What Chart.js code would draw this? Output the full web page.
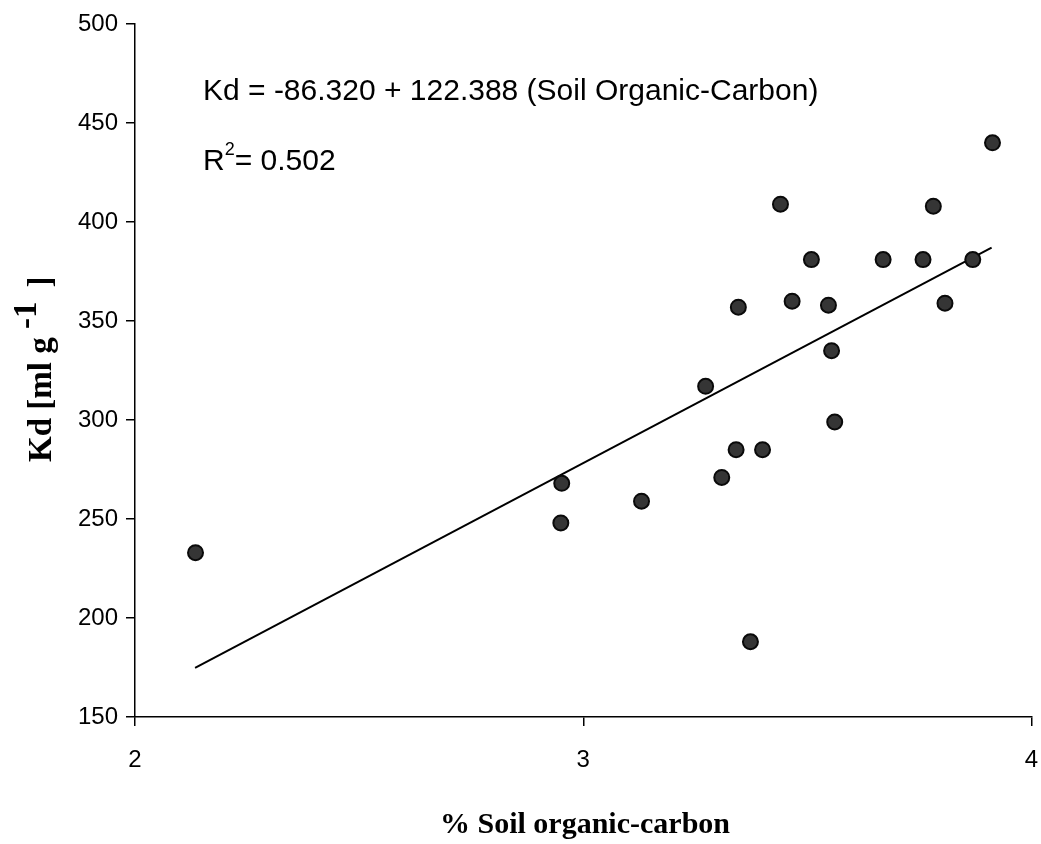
<!DOCTYPE html>
<html>
<head>
<meta charset="utf-8">
<title>Kd vs soil organic carbon</title>
<script src="https://cdn.jsdelivr.net/npm/chart.js@4.4.0/dist/chart.umd.min.js"></script>
<style>
    html, body { margin: 0; padding: 0; background: #fff; }
    #wrap { width: 1041px; height: 844px; }
</style>
</head>
<body>
<div id="wrap"><canvas id="kdChart" width="1041" height="844"></canvas></div>
<script>
// Measured samples: % soil organic carbon and Kd [ml g-1]
const soilCarbon = [2.135, 2.950, 2.952, 3.130, 3.273, 3.309, 3.341, 3.346, 3.373, 3.400, 3.440,
                    3.466, 3.509, 3.547, 3.554, 3.561, 3.669, 3.758, 3.781, 3.807, 3.869, 3.913];
const kdValues   = [233, 248, 268, 259, 317, 271, 285, 357, 188, 285, 409,
                    360, 381, 358, 335, 299, 381, 381, 408, 359, 381, 440];

// Fitted line, end points as drawn
const fitCarbon = [2.134, 3.911];
const fitKd     = [174.8, 387.0];

// Axes
const xTicks = [2, 3, 4];
const yTicks = [150, 200, 250, 300, 350, 400, 450, 500];

// Texts
const equationText = 'Kd = -86.320 + 122.388 (Soil Organic-Carbon)';
const rSquaredText = '0.502';
const xTitle = '% Soil organic-carbon';
const yTitleMain = 'Kd [ml g';
const yTitleSup = '-1';
const yTitleEnd = ']';

const SANS = '"Liberation Sans", Arial, sans-serif';
const SERIF = '"Liberation Serif", "Times New Roman", serif';

document.addEventListener('DOMContentLoaded', function() {
    initChart();
});

// Draws the equation, R² and both axis titles
const textPlugin = {
    id: 'chartText',
    afterDraw(chart) {
        const ctx = chart.ctx;
        ctx.save();
        ctx.fillStyle = '#000';
        ctx.textBaseline = 'alphabetic';

        // Equation
        ctx.font = '30px ' + SANS;
        ctx.textAlign = 'left';
        ctx.fillText(equationText, 203, 100);

        // R squared with superscript
        ctx.fillText('R', 203, 170);
        const rw = ctx.measureText('R').width;
        ctx.font = '18px ' + SANS;
        ctx.fillText('2', 203 + rw, 155);
        const sw = ctx.measureText('2').width;
        ctx.font = '30px ' + SANS;
        ctx.fillText('= ' + rSquaredText, 203 + rw + sw, 170);

        // X title
        ctx.font = 'bold 30px ' + SERIF;
        ctx.textAlign = 'center';
        ctx.fillText(xTitle, 585, 833);

        // Y title (rotated, with raised -1)
        ctx.translate(51, 462);
        ctx.rotate(-Math.PI / 2);
        ctx.font = 'bold 33px ' + SERIF;
        ctx.textAlign = 'left';
        ctx.fillText(yTitleMain, 0, 0);
        const mw = ctx.measureText(yTitleMain + ' ').width;
        ctx.fillText(yTitleSup, mw, -15);
        const supw = ctx.measureText(yTitleSup).width;
        ctx.fillText(yTitleEnd, mw + supw + 14, 0);

        ctx.restore();
    }
};

function initChart() {
    const ctx = document.getElementById('kdChart').getContext('2d');

    const points = soilCarbon.map((c, i) => ({ x: c, y: kdValues[i] }));
    const fitLine = fitCarbon.map((c, i) => ({ x: c, y: fitKd[i] }));

    const axisGrid = {
        display: true,
        drawOnChartArea: false,
        drawTicks: true,
        tickLength: 9,
        color: '#000',
        lineWidth: 1.5
    };
    const axisBorder = { display: true, color: '#000', width: 1.5 };

    window.kdChart = new Chart(ctx, {
        type: 'scatter',
        data: {
            datasets: [{
                label: 'Kd',
                data: points,
                backgroundColor: '#353535',
                borderColor: '#0a0a0a',
                borderWidth: 2,
                pointRadius: 7.5,
                pointHoverRadius: 7.5
            }, {
                label: 'Fit',
                data: fitLine,
                showLine: true,
                borderColor: '#000',
                borderWidth: 2,
                pointRadius: 0,
                fill: false
            }]
        },
        options: {
            responsive: false,
            animation: false,
            devicePixelRatio: 1,
            layout: {
                padding: { top: 24, right: 9, left: 0, bottom: 0 }
            },
            plugins: {
                legend: { display: false },
                tooltip: { enabled: false },
                title: { display: false }
            },
            scales: {
                x: {
                    type: 'linear',
                    min: xTicks[0],
                    max: xTicks[xTicks.length - 1],
                    afterBuildTicks: function(scale) {
                        scale.ticks = xTicks.map(v => ({ value: v }));
                    },
                    afterFit: function(scale) {
                        scale.height = 127;
                        scale.paddingLeft = 0;
                        scale.paddingRight = 0;
                    },
                    grid: axisGrid,
                    border: axisBorder,
                    ticks: {
                        color: '#000',
                        padding: 20,
                        maxRotation: 0,
                        font: { family: SANS, size: 24 }
                    }
                },
                y: {
                    type: 'linear',
                    min: yTicks[0],
                    max: yTicks[yTicks.length - 1],
                    afterBuildTicks: function(scale) {
                        scale.ticks = yTicks.map(v => ({ value: v }));
                    },
                    afterFit: function(scale) {
                        scale.width = 135;
                        scale.paddingTop = 0;
                        scale.paddingBottom = 0;
                    },
                    grid: axisGrid,
                    border: axisBorder,
                    ticks: {
                        color: '#000',
                        padding: 8,
                        font: { family: SANS, size: 24 }
                    }
                }
            }
        },
        plugins: [textPlugin]
    });
}
</script>
</body>
</html>
